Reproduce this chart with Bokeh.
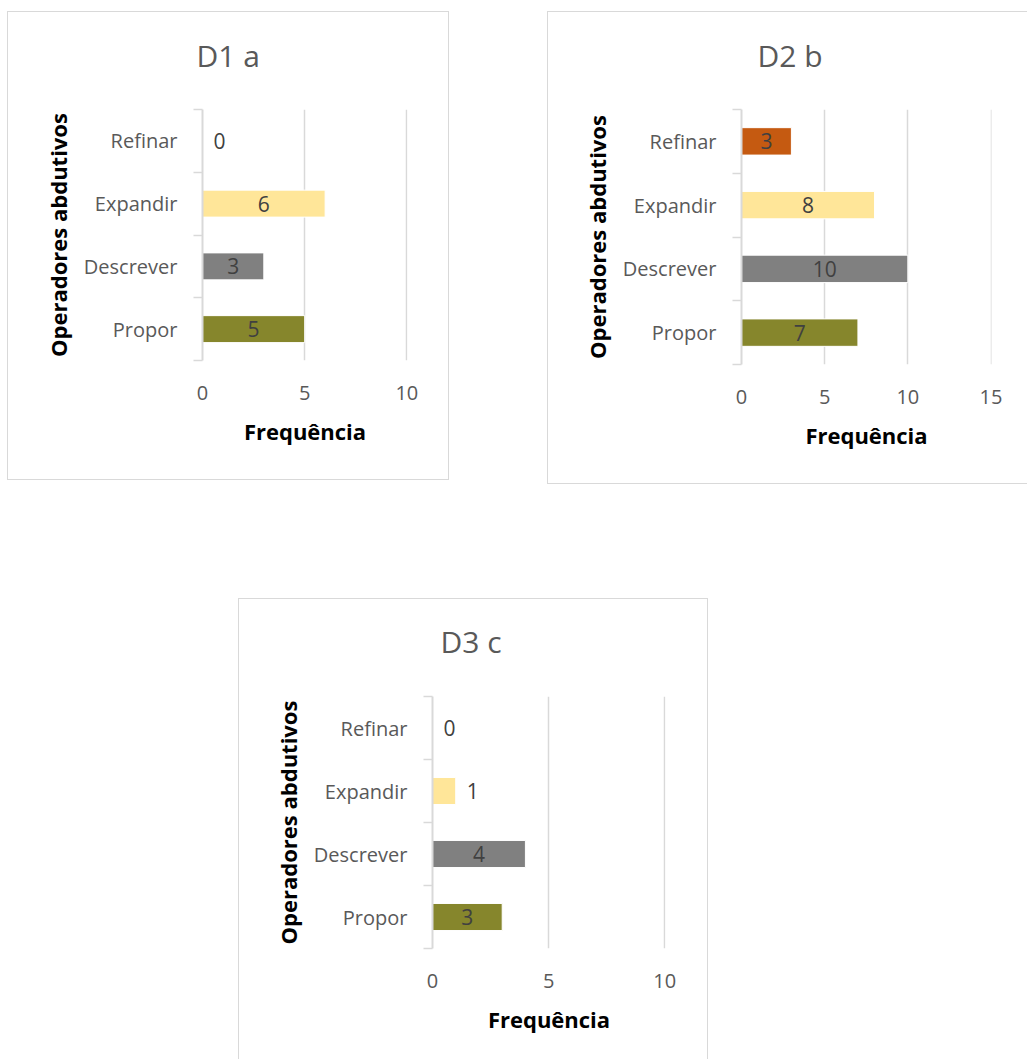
from bokeh.plotting import figure
from bokeh.models import Range1d, FixedTicker, Spacer, ColumnDataSource, LinearAxis
from bokeh.layouts import row, column
from bokeh.embed import file_html
from bokeh.resources import INLINE
from bokeh.core.properties import value

# ---------------- data ----------------
categories = ["Propor", "Descrever", "Expandir", "Refinar"]
bar_colors = ["#86862C", "#808080", "#FFE699", "#C55A11"]
d1_values = [5, 3, 6, 0]
d2_values = [7, 10, 8, 3]
d3_values = [3, 4, 1, 0]
chart_titles = ["D1 a", "D2 b", "D3 c"]
d1_xticks = [0, 5, 10]
d2_xticks = [0, 5, 10, 15]
d3_xticks = [0, 5, 10]
y_title = "Operadores abdutivos"
x_title = "Frequência"

FONT = "Open Sans"
GRID = "#d9d9d9"


def make_chart(title, vals, xticks, width, height, bl, br, bt, bb, title_offset, title_gap, border_style):
    n = len(categories)
    p = figure(width=width, height=height,
               x_range=Range1d(xticks[0], xticks[-1] + 0.03),
               y_range=Range1d(-0.5, n - 0.5),
               output_backend="svg", toolbar_location=None, tools="",
               min_border_left=bl, min_border_right=br,
               min_border_top=bt, min_border_bottom=bb)
    p.outline_line_color = None
    p.background_fill_color = "white"
    p.border_fill_color = "white"
    p.styles = border_style

    # invisible spacer axis between frame and title (blank label gives it height)
    gap = LinearAxis(ticker=FixedTicker(ticks=[]), axis_line_color=None,
                     major_tick_line_color=None, minor_tick_line_color=None,
                     major_tick_in=0, major_tick_out=0, minor_tick_out=0,
                     major_label_standoff=0,
                     axis_label=" ", axis_label_text_font_size="10px",
                     axis_label_standoff=title_gap - 14)
    p.add_layout(gap, "above")

    # title
    p.title.text = title
    p.title.align = "left"
    p.title.offset = title_offset
    p.title.standoff = 0
    p.title.text_font = FONT
    p.title.text_font_size = "30px"
    p.title.text_font_style = "normal"
    p.title.text_color = "#595959"

    # bars
    src = ColumnDataSource(dict(y=list(range(n)), v=vals, color=bar_colors[:n]))
    p.hbar(y="y", left=0, right="v", height=0.43, fill_color="color",
           line_color="white", line_width=1, source=src)

    # data labels
    ins = dict(x=[], y=[], t=[])
    outs = dict(x=[], y=[], t=[])
    for i, v in enumerate(vals):
        if v >= 2:
            ins["x"].append(v / 2); ins["y"].append(i); ins["t"].append(str(v))
        else:
            outs["x"].append(v); outs["y"].append(i); outs["t"].append(str(v))
    p.text(x="x", y="y", text="t", source=ColumnDataSource(ins),
           text_align="center", text_baseline="middle",
           text_font=value(FONT), text_font_size="21px", text_color="#404040")
    p.text(x="x", y="y", text="t", source=ColumnDataSource(outs),
           text_align="left", text_baseline="middle", x_offset=11,
           text_font=value(FONT), text_font_size="21px", text_color="#404040")

    # y axis (categories, ticks at boundaries)
    ya = p.yaxis[0]
    ya.ticker = FixedTicker(ticks=list(range(n)),
                            minor_ticks=[i - 0.5 for i in range(n + 1)])
    ya.major_label_overrides = {i: c for i, c in enumerate(categories)}
    ya.major_tick_in = 0
    ya.major_tick_out = 0
    ya.minor_tick_in = 0
    ya.minor_tick_out = 9
    ya.minor_tick_line_color = GRID
    ya.minor_tick_line_width = 1.5
    ya.axis_line_color = GRID
    ya.axis_line_width = 2
    ya.major_label_standoff = 16
    ya.major_label_text_font = FONT
    ya.major_label_text_font_size = "20px"
    ya.major_label_text_color = "#595959"
    ya.axis_label = y_title
    ya.axis_label_text_font = FONT
    ya.axis_label_text_font_style = "bold"
    ya.axis_label_text_font_size = "22px"
    ya.axis_label_text_color = "black"
    ya.axis_label_standoff = 8

    # x axis
    xa = p.below[0]
    xa.ticker = FixedTicker(ticks=xticks)
    xa.axis_line_color = None
    xa.major_tick_line_color = None
    xa.minor_tick_line_color = None
    xa.major_label_standoff = 19
    xa.major_label_text_font = FONT
    xa.major_label_text_font_size = "20px"
    xa.major_label_text_color = "#595959"
    xa.axis_label = x_title
    xa.axis_label_text_font = FONT
    xa.axis_label_text_font_style = "bold"
    xa.axis_label_text_font_size = "22px"
    xa.axis_label_text_color = "black"
    xa.axis_label_standoff = 13

    p.ygrid.grid_line_color = None
    p.xgrid.ticker = FixedTicker(ticks=xticks)
    p.xgrid.grid_line_color = GRID
    p.xgrid.grid_line_width = 1.5
    return p


full = {"border": "1px solid #d9d9d9"}
p1 = make_chart(chart_titles[0], d1_values, d1_xticks, 442, 469, 194, 43, 97, 121, -6, 34, full)
p2 = make_chart(chart_titles[1], d2_values, d2_xticks, 480, 473, 193, 37, 97, 120, 16, 34,
                {"border-left": "1px solid #d9d9d9", "border-top": "1px solid #d9d9d9",
                 "border-bottom": "1px solid #d9d9d9"})
p3 = make_chart(chart_titles[2], d3_values, d3_xticks, 470, 461, 193, 44, 97, 112, 8, 35,
                {"border-left": "1px solid #d9d9d9", "border-top": "1px solid #d9d9d9",
                 "border-right": "1px solid #d9d9d9"})

layout = column(
    Spacer(width=10, height=11),
    row(Spacer(width=7, height=10), p1, Spacer(width=98, height=10), p2),
    Spacer(width=10, height=114),
    row(Spacer(width=238, height=10), p3),
)

open("out.html", "w").write(file_html(layout, INLINE))
